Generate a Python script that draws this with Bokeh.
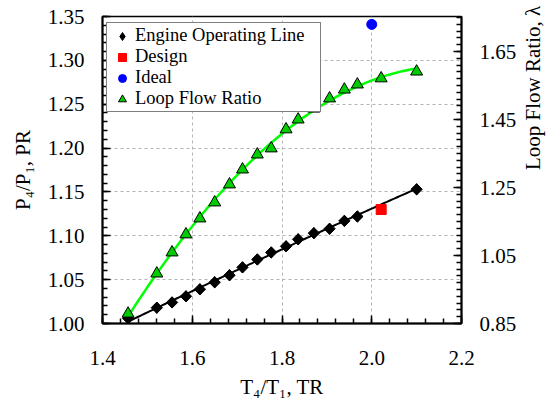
import numpy as np
from bokeh.plotting import figure
from bokeh.models import (Range1d, LinearAxis, SingleIntervalTicker, FixedTicker,
                          NumeralTickFormatter, Legend, LegendItem)
from bokeh.embed import file_html
from bokeh.resources import INLINE

# Engine operating line: temperature ratio TR vs pressure ratio PR
tr_engine = [1.457, 1.521, 1.555, 1.586, 1.617, 1.650, 1.683, 1.712, 1.745,
             1.776, 1.809, 1.836, 1.871, 1.906, 1.939, 1.968, 2.100]
pr_engine = [1.006, 1.018, 1.024, 1.031, 1.039, 1.047, 1.055, 1.064, 1.073,
             1.081, 1.088, 1.096, 1.103, 1.108, 1.117, 1.122, 1.153]

# Loop flow ratio (right axis)
tr_loop = [1.457, 1.521, 1.555, 1.586, 1.617, 1.650, 1.683, 1.712, 1.745,
           1.776, 1.809, 1.836, 1.871, 1.906, 1.939, 1.968, 2.021, 2.100]
lam_loop = [0.879, 0.997, 1.059, 1.112, 1.159, 1.206, 1.259, 1.303, 1.347,
            1.365, 1.421, 1.450, 1.482, 1.512, 1.538, 1.553, 1.571, 1.591]

# Single points
tr_design = [2.021]
pr_design = [1.130]
tr_ideal = [2.000]
pr_ideal = [1.341]

# Right-axis tick positions
y_right_major = [0.85, 1.05, 1.25, 1.45, 1.65]
y_right_minor = [round(0.85 + 0.02 * i, 2) for i in range(46)]

FONT = "Liberation Serif"

p = figure(width=560, height=402, output_backend="svg", toolbar_location=None,
           x_range=Range1d(1.4, 2.2), y_range=Range1d(1.00, 1.35),
           min_border_left=102, min_border_right=96, min_border_top=16,
           min_border_bottom=79)
p.background_fill_color = "white"
p.border_fill_color = "white"
p.outline_line_color = "black"
p.outline_line_width = 1.5
p.outline_line_alpha = 1.0
p.extra_y_ranges = {"lam": Range1d(0.85, 1.753)}

# Trend lines fitted through the measured points
cx = np.linspace(min(tr_engine), max(tr_engine), 120)
ce = np.polyval(np.polyfit(tr_engine, pr_engine, 2), cx)
lx = np.linspace(min(tr_loop), max(tr_loop), 120)
cl = np.polyval(np.polyfit(tr_loop, lam_loop, 2), lx)

p.line(cx, ce, line_color="black", line_width=2)
p.line(lx, cl, line_color="#00ff00", line_width=2.5, y_range_name="lam")

# diamond swatch (also used by the legend) under rotated-square markers
r_eng = p.scatter(tr_engine, pr_engine, marker="diamond", size=11,
                  fill_color="black", line_color="black")
p.scatter(tr_engine, pr_engine, marker="square", angle=np.pi / 4, size=8,
          fill_color="black", line_color="black")
r_des = p.scatter(tr_design, pr_design, marker="square", size=10,
                  fill_color="#ff0000", line_color="#ff0000")
r_idl = p.scatter(tr_ideal, pr_ideal, marker="circle", size=10,
                  fill_color="#0000ff", line_color="#0000ff")
r_loop = p.scatter(tr_loop, lam_loop, marker="triangle", size=12,
                   fill_color="#00cc00", line_color="black", line_width=1,
                   y_range_name="lam")

# Axes
xa = p.xaxis[0]
xa.ticker = SingleIntervalTicker(interval=0.2, num_minor_ticks=5)
xa.formatter = NumeralTickFormatter(format="0.0")
xa.axis_label = "T\u2084/T\u2081, TR"

ya = p.yaxis[0]
ya.ticker = SingleIntervalTicker(interval=0.05, num_minor_ticks=5)
ya.formatter = NumeralTickFormatter(format="0.00")
ya.axis_label = "P\u2084/P\u2081, PR"

ra = LinearAxis(y_range_name="lam",
                ticker=FixedTicker(ticks=y_right_major, minor_ticks=y_right_minor),
                formatter=NumeralTickFormatter(format="0.00"),
                axis_label="Loop Flow Ratio, \u03bb")
p.add_layout(ra, "right")
ra.axis_label_orientation = np.pi / 2

for ax in (xa, ya, ra):
    ax.axis_line_color = "black"
    ax.axis_line_width = 2
    ax.major_tick_line_color = "black"
    ax.minor_tick_line_color = "black"
    ax.major_tick_line_width = 1.5
    ax.minor_tick_line_width = 1.5
    ax.major_tick_in = 8
    ax.major_tick_out = 0
    ax.minor_tick_in = 5
    ax.minor_tick_out = 0
    ax.major_label_text_font = FONT
    ax.major_label_text_font_size = "21px"
    ax.major_label_text_color = "black"
    ax.axis_label_text_font = FONT
    ax.axis_label_text_font_size = "21px"
    ax.axis_label_text_font_style = "normal"
    ax.axis_label_text_color = "black"

xa.major_label_standoff = 27
xa.axis_label_standoff = 7
ya.major_label_standoff = 18
ya.axis_label_standoff = 10
ra.major_label_standoff = 18
ra.axis_label_standoff = 14

# Grid
for g in (p.xgrid[0], p.ygrid[0]):
    g.grid_line_color = "#b4b4b4"
    g.grid_line_dash = "3 3"
    g.grid_line_width = 1

legend = Legend(items=[
    LegendItem(label="Engine Operating Line", renderers=[r_eng]),
    LegendItem(label="Design", renderers=[r_des]),
    LegendItem(label="Ideal", renderers=[r_idl]),
    LegendItem(label="Loop Flow Ratio", renderers=[r_loop]),
], location=(4, 211))
legend.margin = 0
legend.padding = 2
legend.spacing = 0
legend.label_height = 20
legend.glyph_height = 20
legend.glyph_width = 26
legend.label_width = 183
legend.label_standoff = 0
legend.label_text_font = FONT
legend.label_text_font_size = "18.5px"
legend.label_text_line_height = 1.0
legend.label_text_color = "black"
legend.border_line_color = "black"
legend.border_line_width = 1
legend.background_fill_color = "white"
legend.background_fill_alpha = 1.0
p.add_layout(legend, "center")

open("out.html", "w").write(file_html(p, INLINE))
